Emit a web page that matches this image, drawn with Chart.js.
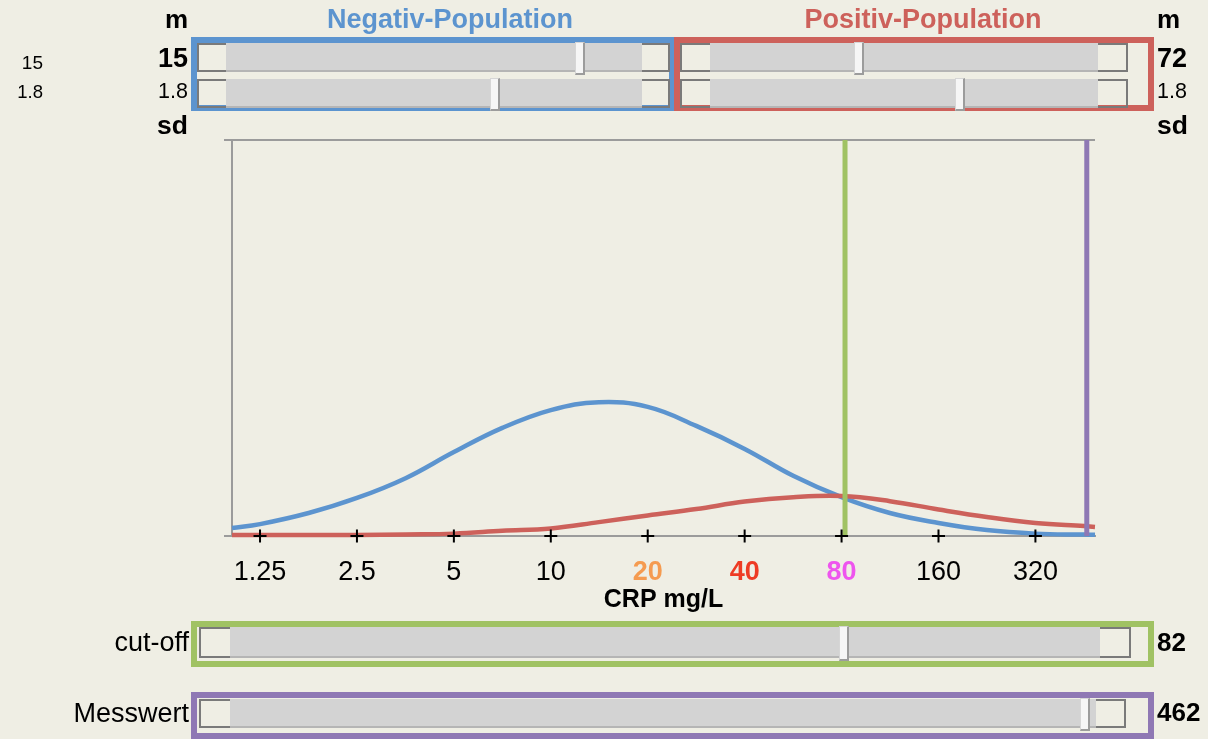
<!DOCTYPE html>
<html lang="de">
<head>
<meta charset="utf-8">
<title>CRP Negativ-/Positiv-Population</title>
<script src="https://cdn.jsdelivr.net/npm/chart.js@4.4.1/dist/chart.umd.min.js"></script>
<style>
  html, body { margin: 0; padding: 0; }
  body {
    width: 1208px; height: 739px; position: relative; overflow: hidden;
    background: #efeee4;
    font-family: "Liberation Sans", Arial, Helvetica, sans-serif; color: #000;
  }
  #chart { position: absolute; left: 0; top: 0; }
  .txt { position: absolute; white-space: nowrap; line-height: 1.2; }
  .box { position: absolute; box-sizing: border-box; border: 6px solid; }
  .btn { position: absolute; box-sizing: border-box; border: 2px solid #7a7a7a; }
  .track { position: absolute; box-sizing: border-box; background: #d3d3d3; border-bottom: 2px solid #b5b5b5; }
  .thumb {
    position: absolute; box-sizing: border-box; width: 10px; background: #f6f6f6;
    border: 1px solid #d6d6d6; border-right: 2px solid #9c9c9c; border-bottom: 2px solid #9c9c9c;
  }
</style>
</head>
<body>
<canvas id="chart" width="1208" height="739"></canvas>
<script>
// values
// CRP positions (mg/L) where the two curves were read
const crpWerte = [1.023, 1.25, 1.77, 2.5, 3.54, 5, 7.07, 10, 14.1, 20, 28.3, 40, 56.6, 80, 113, 160, 226, 320, 453, 490];
// curve heights in % of the plot height
const negativDichte = [2.0, 3.0, 5.8, 9.6, 14.6, 21.2, 27.3, 31.8, 33.8, 32.6, 27.8, 22.0, 15.2, 9.8, 5.8, 3.3, 1.5, 0.6, 0.35, 0.3];
const positivDichte = [0.25, 0.25, 0.25, 0.25, 0.4, 0.6, 1.3, 1.9, 3.5, 5.2, 6.8, 8.7, 9.8, 10.1, 8.8, 6.7, 4.8, 3.3, 2.5, 2.3];

// x axis ticks
const tickWerte = [1.25, 2.5, 5, 10, 20, 40, 80, 160, 320];
const tickLabels = ["1.25", "2.5", "5", "10", "20", "40", "80", "160", "320"];
const tickFarben = ["#000", "#000", "#000", "#000", "#f59b50", "#ee3b24", "#ee55ee", "#000", "#000"];
const tickFett = [false, false, false, false, true, true, true, false, false];

// slider values
const negativM = 15, negativSd = 1.8;
const positivM = 72, positivSd = 1.8;
const cutOff = 82;
const messwert = 462;

const BLAU = "#5c94cf";
const ROT = "#cd615b";
const GRUEN = "#a0c263";
const LILA = "#8f78b4";
const FONT = "'Liberation Sans', Arial, Helvetica, sans-serif";

Chart.defaults.font.family = FONT;

// top frame line and the little stub left of the x axis
const rahmen = {
  id: "rahmen",
  beforeDatasetsDraw(chart) {
    const a = chart.chartArea;
    const c = chart.ctx;
    c.save();
    c.strokeStyle = "#9b9b9b";
    c.lineWidth = 2;
    c.beginPath();
    c.moveTo(a.left - 8, a.top);
    c.lineTo(a.right, a.top);
    c.moveTo(a.left - 8, a.bottom);
    c.lineTo(a.left, a.bottom);
    c.stroke();
    c.restore();
  }
};

const chart = new Chart(document.getElementById("chart"), {
  type: "line",
  data: {
    datasets: [
      {
        label: "Ticks",
        data: tickWerte.map(v => ({ x: v, y: 0 })),
        showLine: false,
        pointStyle: "cross",
        pointRadius: 6.5,
        pointBorderWidth: 2,
        pointBorderColor: "#000",
        clip: false,
        order: 0
      },
      {
        label: "cut-off",
        data: [{ x: cutOff, y: 0 }, { x: cutOff, y: 100 }],
        borderColor: GRUEN,
        borderWidth: 5,
        pointRadius: 0,
        order: 1
      },
      {
        label: "Messwert",
        data: [{ x: messwert, y: 0 }, { x: messwert, y: 100 }],
        borderColor: LILA,
        borderWidth: 5,
        pointRadius: 0,
        order: 1
      },
      {
        label: "Positiv-Population",
        data: crpWerte.map((v, i) => ({ x: v, y: positivDichte[i] })),
        borderColor: ROT,
        borderWidth: 4.5,
        pointRadius: 0,
        tension: 0.4,
        clip: false,
        order: 2
      },
      {
        label: "Negativ-Population",
        data: crpWerte.map((v, i) => ({ x: v, y: negativDichte[i] })),
        borderColor: BLAU,
        borderWidth: 4.5,
        pointRadius: 0,
        tension: 0.4,
        clip: false,
        order: 3
      }
    ]
  },
  options: {
    responsive: false,
    animation: false,
    events: [],
    layout: { padding: { left: 232, right: 113, top: 140, bottom: 118 } },
    plugins: { legend: { display: false }, tooltip: { enabled: false } },
    scales: {
      x: {
        type: "logarithmic",
        min: 1.023,
        max: 490,
        grid: { display: false },
        border: { color: "#9b9b9b", width: 2 },
        afterBuildTicks: function(scale) {
          scale.ticks = tickWerte.map(v => ({ value: v }));
        },
        afterFit: function(scale) { scale.height = 85; },
        ticks: {
          autoSkip: false,
          maxRotation: 0,
          minRotation: 0,
          padding: 12,
          callback: (value, index) => tickLabels[index],
          color: c => tickFarben[c.index],
          font: c => ({ family: FONT, size: 27, weight: tickFett[c.index] ? "bold" : "normal" })
        },
        title: {
          display: true,
          text: "CRP mg/L",
          color: "#000",
          font: { family: FONT, size: 25, weight: "bold" },
          padding: { top: 0, bottom: 6 }
        }
      },
      y: {
        min: 0,
        max: 100,
        grid: { display: false },
        ticks: { display: false },
        border: { color: "#9b9b9b", width: 2 },
        afterFit: function(scale) { scale.width = 0; }
      }
    }
  },
  plugins: [rahmen]
});

// ---- slider widgets and labels around the chart ----
function addText(text, x, baseline, size, align, extra) {
  const d = document.createElement("div");
  d.className = "txt";
  d.textContent = text;
  d.style.fontSize = size + "px";
  d.style.top = (baseline - 0.9465 * size) + "px";
  d.style.left = x + "px";
  if (align === "right") d.style.transform = "translateX(-100%)";
  if (align === "center") d.style.transform = "translateX(-50%)";
  if (extra) Object.assign(d.style, extra);
  document.body.appendChild(d);
}

function addDiv(cls, x, y, w, h, extra) {
  const d = document.createElement("div");
  d.className = cls;
  d.style.left = x + "px";
  d.style.top = y + "px";
  d.style.width = w + "px";
  d.style.height = h + "px";
  if (extra) Object.assign(d.style, extra);
  document.body.appendChild(d);
  return d;
}

// one slider row: left button, track, right button, thumb
function addSlider(x0, x1, x2, x3, y, h, thumbX) {
  addDiv("btn", x0, y, x1 - x0, h, { borderRight: "none" });
  addDiv("track", x1, y, x2 - x1, h);
  addDiv("btn", x2, y, x3 - x2, h, { borderLeft: "none" });
  addDiv("thumb", thumbX - 5, y - 1, 10, h + 4);
}

// top boxes
addDiv("box", 191, 37, 484, 74, { borderColor: BLAU });
addDiv("box", 674, 37, 480, 74, { borderColor: ROT });
addSlider(197, 226, 642, 670, 43, 29, 580);
addSlider(197, 226, 642, 670, 79, 29, 495);
addSlider(680, 710, 1098, 1128, 43, 29, 859);
addSlider(680, 710, 1098, 1128, 79, 29, 960);

// bottom boxes, thumbs placed on the chart's own x scale
const xs = chart.scales.x;
addDiv("box", 191, 621, 963, 46, { borderColor: GRUEN });
addSlider(199, 230, 1100, 1131, 627, 31, xs.getPixelForValue(cutOff) - 1);
addDiv("box", 191, 692, 963, 47, { borderColor: LILA });
addSlider(199, 230, 1096, 1126, 699, 29, xs.getPixelForValue(messwert) - 2);

const fett = { fontWeight: "bold" };
addText("Negativ-Population", 450, 29, 27, "center", { fontWeight: "bold", color: BLAU });
addText("Positiv-Population", 923, 29, 27, "center", { fontWeight: "bold", color: ROT });
addText("m", 188, 29, 26, "right", fett);
addText("m", 1157, 29, 26, "left", fett);
addText(String(negativM), 43, 70, 19, "right");
addText(String(negativSd), 43, 99, 18.5, "right");
addText(String(negativM), 188, 68, 27, "right", fett);
addText(String(negativSd), 188, 99, 21.5, "right");
addText(String(positivM), 1157, 68, 27, "left", fett);
addText(String(positivSd), 1157, 99, 21.5, "left");
addText("sd", 188, 135, 26.5, "right", fett);
addText("sd", 1157, 135, 26.5, "left", fett);
addText("cut-off", 189, 652, 27, "right");
addText(String(cutOff), 1157, 652, 26, "left", fett);
addText("Messwert", 189, 723, 27, "right");
addText(String(messwert), 1157, 722, 26, "left", fett);
</script>
</body>
</html>
